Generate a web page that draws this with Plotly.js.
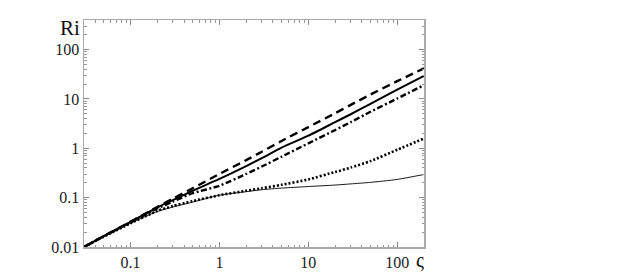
<!DOCTYPE html>
<html>
<head>
<meta charset="utf-8">
<script src="https://cdn.plot.ly/plotly-3.0.1.min.js"></script>
<style>html,body{margin:0;padding:0;background:#fff;}#chart{width:638px;height:280px;}</style>
</head>
<body>
<div id="chart"></div>
<script>
const sigma = [0.03, 0.05, 0.1, 0.2, 0.3, 0.5, 1, 2, 3, 5, 10, 20, 30, 50, 100, 200];
const riDashed  = [0.01, 0.0166, 0.0324, 0.0646, 0.0955, 0.155, 0.302, 0.575, 0.851, 1.41, 2.69, 5.13, 7.59, 12.3, 22.9, 41.7];
const riSolid   = [0.01, 0.0166, 0.0324, 0.0631, 0.0891, 0.138, 0.240, 0.437, 0.630, 1.03, 1.80, 3.39, 4.90, 7.94, 15.5, 29.5];
const riDashDot = [0.01, 0.0166, 0.0316, 0.0603, 0.0832, 0.123, 0.174, 0.302, 0.427, 0.676, 1.26, 2.34, 3.39, 5.50, 10.2, 19.1];
const riDotted  = [0.01, 0.0162, 0.0302, 0.0537, 0.0676, 0.0851, 0.112, 0.138, 0.155, 0.182, 0.234, 0.331, 0.407, 0.550, 0.933, 1.58];
const riThin    = [0.01, 0.0162, 0.0302, 0.0525, 0.0646, 0.0813, 0.112, 0.132, 0.145, 0.156, 0.168, 0.180, 0.190, 0.204, 0.234, 0.295];
const xTickVals = [0.1, 1, 10, 100];
const xTickText = ['0.1', '1', '10', '100'];
const yTickVals = [0.01, 0.1, 1, 10, 100];
const yTickText = ['0.01', '0.1', '1', '10', '100'];

const serif = '"Liberation Serif", "DejaVu Serif", serif';
function tr(y, dash, width) {
  return {x: sigma, y: y, type: 'scatter', mode: 'lines', line: {color: '#000', width: width, dash: dash, shape: 'spline', smoothing: 0.6}, hoverinfo: 'skip'};
}
const data = [
  tr(riDashed, '8px,5px', 2.4),
  tr(riSolid, 'solid', 2),
  tr(riDashDot, '6px,2.5px,2px,2.5px', 2.4),
  tr(riDotted, '2px,2px', 2.6),
  tr(riThin, 'solid', 0.9)
];
const axisCommon = {
  type: 'log', showgrid: false, zeroline: false,
  showline: true, linecolor: '#aaaaaa', linewidth: 1.5, mirror: 'allticks',
  ticks: 'inside', ticklen: 5, tickwidth: 1, tickcolor: '#888888',
  tickfont: {family: serif, size: 16, color: '#222'},
  tickmode: 'array',
  minor: {ticks: 'inside', ticklen: 2.5, tickwidth: 1, tickcolor: '#999999', dtick: 'D1', showgrid: false}
};
const layout = {
  width: 638, height: 280,
  margin: {l: 84, r: 214, t: 20, b: 33},
  paper_bgcolor: '#fff', plot_bgcolor: '#fff',
  showlegend: false,
  xaxis: Object.assign({}, axisCommon, {range: [Math.log10(0.03), Math.log10(200)], tickvals: xTickVals, ticktext: xTickText}),
  yaxis: Object.assign({}, axisCommon, {range: [-2, 2.6], tickvals: yTickVals, ticktext: yTickText}),
  annotations: [
    {text: 'Ri', xref: 'paper', yref: 'paper', x: 0, y: 1, xanchor: 'right', yanchor: 'middle', xshift: -2, yshift: -8, showarrow: false, font: {family: serif, size: 21, color: '#111'}},
    {text: 'ς', xref: 'paper', yref: 'paper', x: 1, y: 0, xanchor: 'right', yanchor: 'top', xshift: 2, yshift: 0, showarrow: false, font: {family: serif, size: 20, color: '#111'}}
  ]
};
Plotly.newPlot('chart', data, layout, {staticPlot: true, displayModeBar: false});
</script>
</body>
</html>
